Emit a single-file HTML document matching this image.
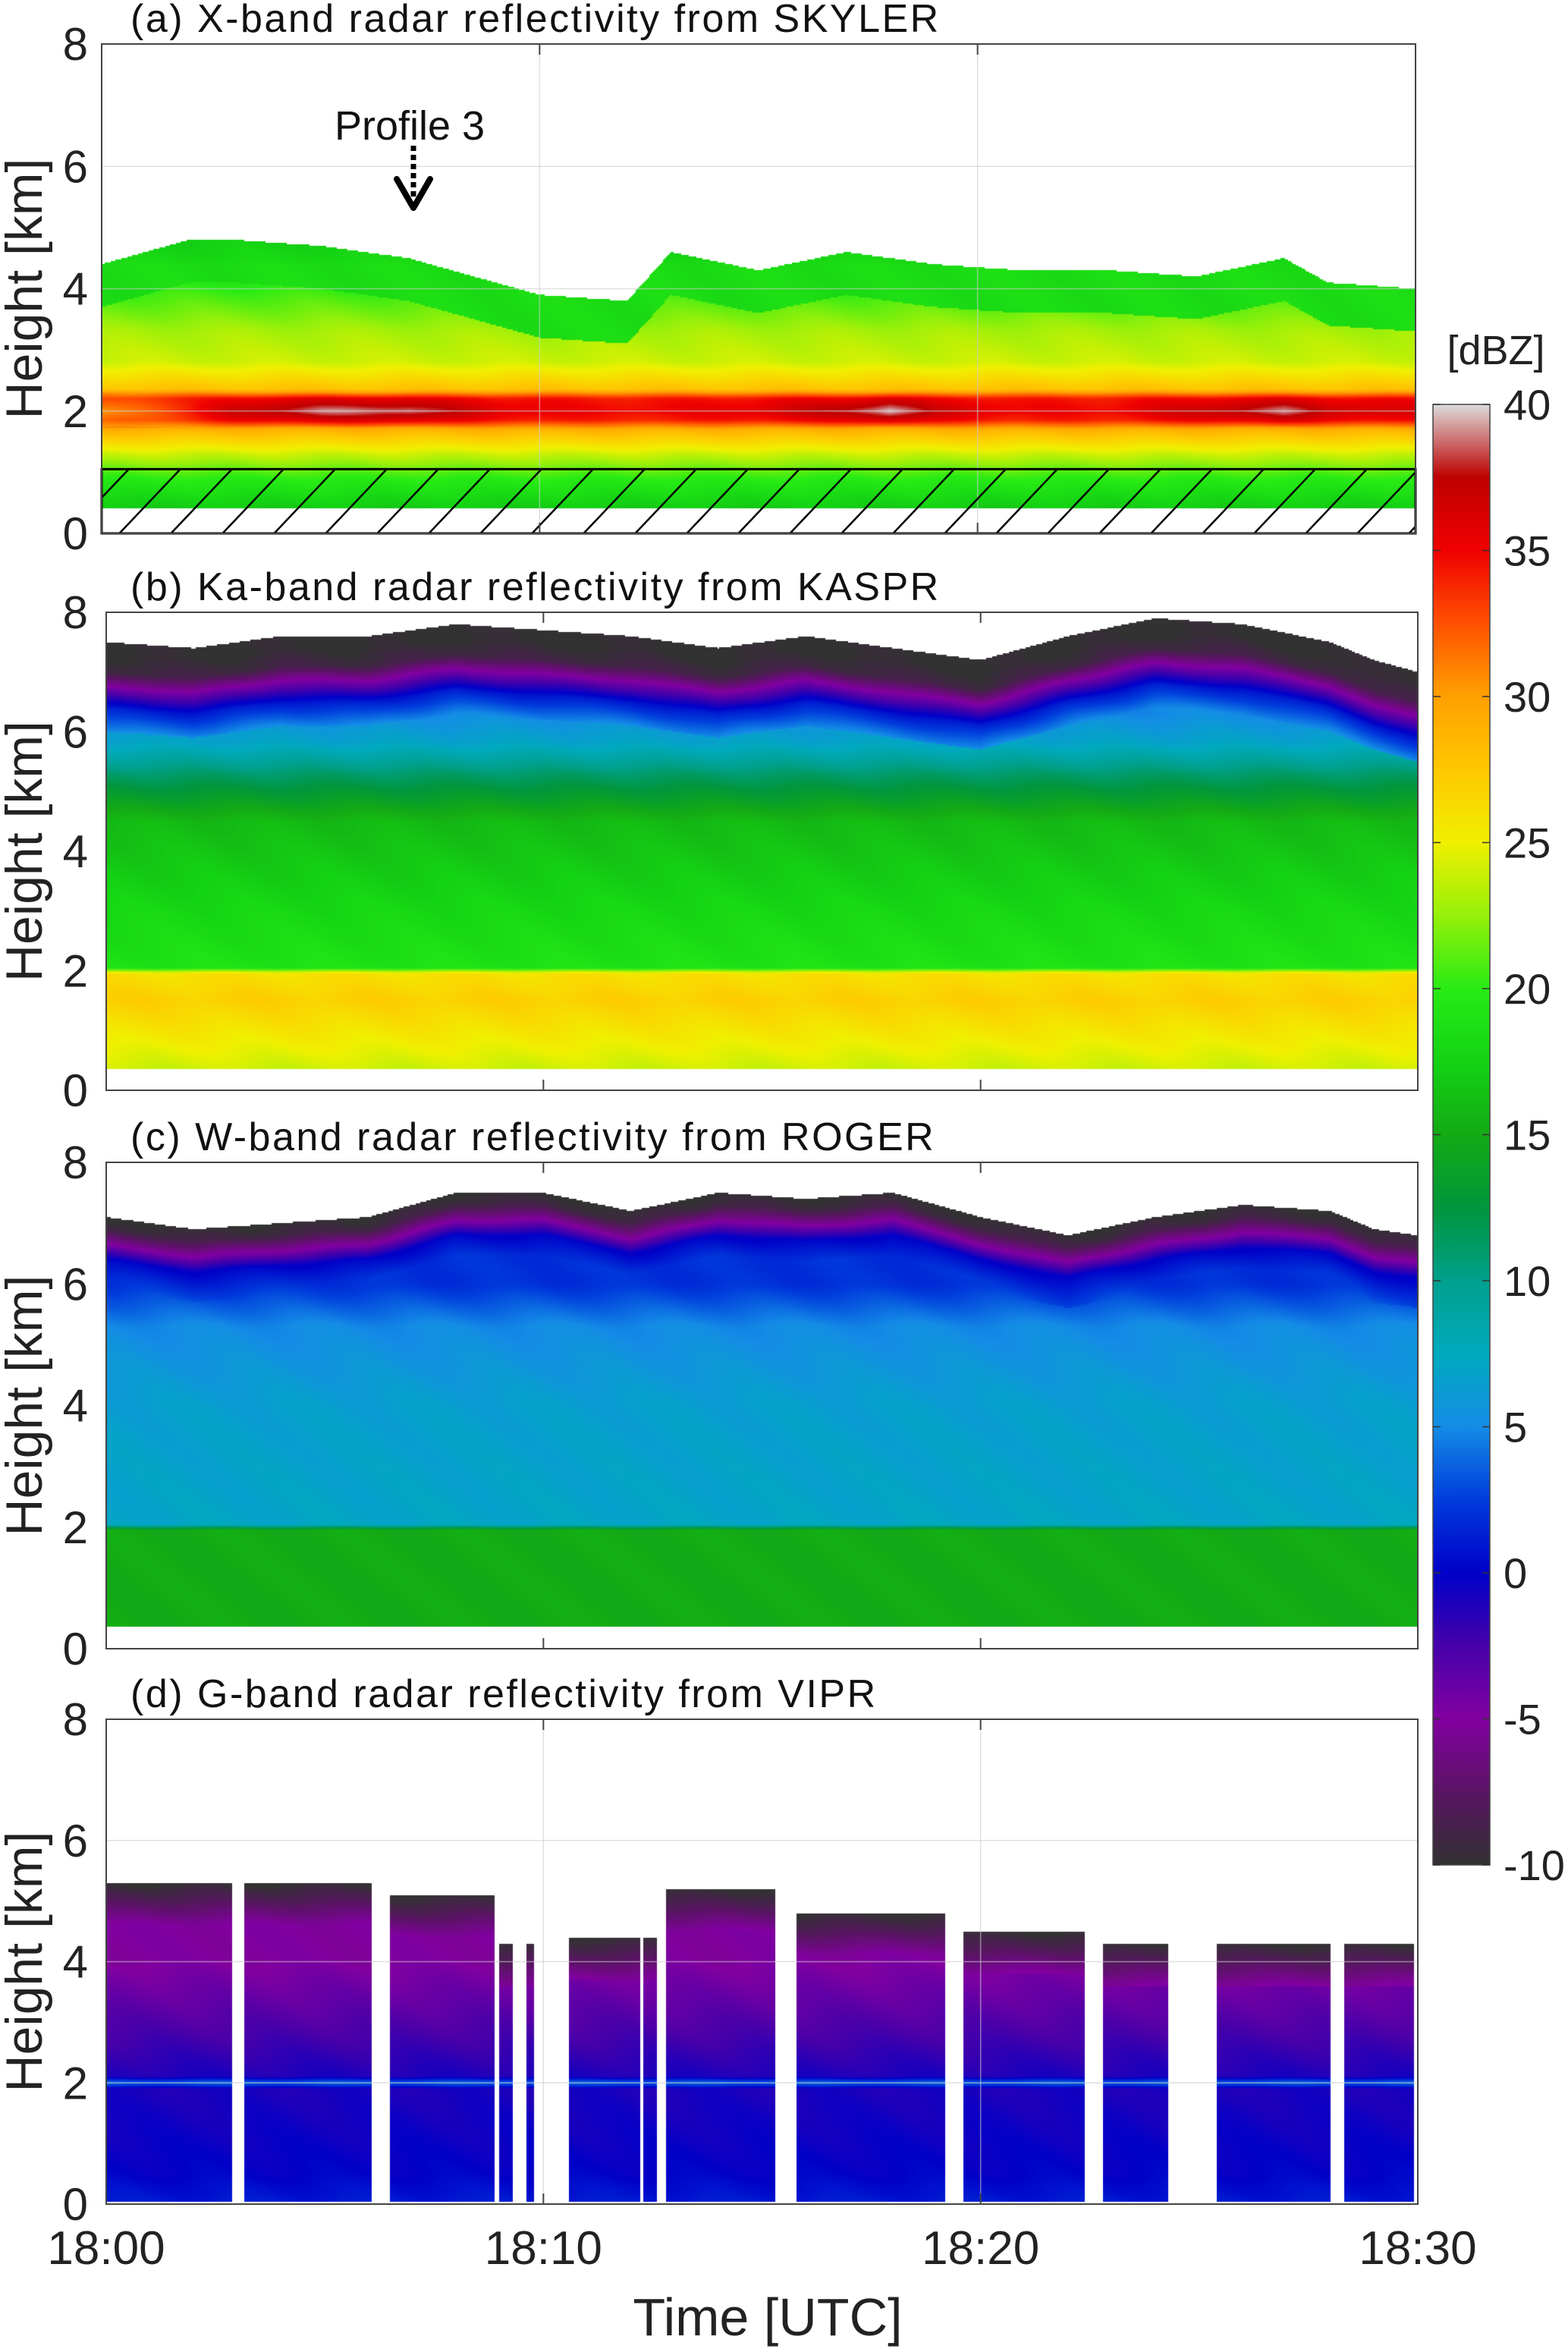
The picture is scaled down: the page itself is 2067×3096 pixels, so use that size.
<!DOCTYPE html>
<html><head><meta charset="utf-8">
<style>
html,body{margin:0;padding:0;background:#fff;}
#root{position:relative;width:2067px;height:3096px;overflow:hidden;font-family:"Liberation Sans",sans-serif;}
canvas{position:absolute;}
</style></head>
<body>
<div id="root">
<svg id="svg" width="2067" height="3096" style="position:absolute;left:0;top:0"></svg>
</div>
<script>
// ---------- data ----------
const timeTicks = [0,10,20,30];
const timeTickLabels = ["18:00","18:10","18:20","18:30"];
const heightTicks = [0,2,4,6,8];
const cbTicks = [-10,-5,0,5,10,15,20,25,30,35,40];

// panel a (X-band)
const aTopTimes = [0,1,2,3,5,7,9,10,12,13,15,17,19,21,23,25,27,28,30];
const aTops     = [4.4,4.6,4.8,4.8,4.7,4.5,4.1,3.9,3.8,4.6,4.3,4.6,4.4,4.3,4.3,4.2,4.5,4.1,4.0];
const aBBTimes  = [0,2,3,5,7,9,11,13,15,17,18,19,21,23,25,27,28,30];
const aBBPeak   = [30,34,37,39,39,36,35,35,36,38,40,37,35,35,37,39,37,36];
const aProfH    = [0.4,0.9,1.3,1.7,1.85,2.0,2.2,2.35,2.8,3.3,3.8,4.5,5.0];
const aProfZ    = [17,20,24,29,35,37,35,28,24,23,21,18,17];

// panel b (Ka-band)
const bTopTimes = [0,2,4,6,8,10,12,14,16,18,20,22,24,26,28,29,30];
const bTops     = [7.3,7.2,7.4,7.4,7.6,7.5,7.4,7.2,7.4,7.2,7.0,7.4,7.7,7.6,7.3,7.0,6.8];
const bProfH    = [0.35,1.5,1.95,2.05,3.0,4.5,5.3,5.8,6.3];
const bProfZ    = [24,27,26,19,18,16,11,7,5];

// panel c (W-band)
const cTopTimes = [0,2,4,6,8,10,12,14,16,18,20,22,24,26,28,29,30];
const cTops     = [6.9,6.7,6.8,6.9,7.3,7.3,7.0,7.3,7.2,7.3,6.9,6.6,6.9,7.1,7.0,6.7,6.6];
const cProfH    = [0.35,1.95,2.05,4.0,5.3,6.0];
const cProfZ    = [15,15,7,6.5,5,2];

// panel d (G-band)
const dSegStart = [0,3.16,6.5,9.0,9.6,10.6,12.3,12.8,15.8,19.6,22.8,25.4,28.3];
const dSegEnd   = [2.88,6.09,8.9,9.3,9.8,12.2,12.6,15.3,19.2,22.4,24.3,28.0,29.9];
const dSegTop   = [5.3,5.3,5.1,4.3,4.3,4.4,4.4,5.2,4.8,4.5,4.3,4.3,4.3];
const dProfH    = [0.05,0.5,1.9,2.0,2.1,3.0,4.0];
const dProfZ    = [1,0,-1,4,-1,-3,-5];

// ---------- geometry ----------
const panels = [
 {id:'a',left:134,right:1866,top:58,bottom:703,title:"(a) X-band radar reflectivity from SKYLER",grid:true},
 {id:'b',left:140,right:1869,top:807,bottom:1437,title:"(b) Ka-band radar reflectivity from KASPR",grid:false},
 {id:'c',left:140,right:1869,top:1532,bottom:2173,title:"(c) W-band radar reflectivity from ROGER",grid:false},
 {id:'d',left:140,right:1869,top:2266,bottom:2905,title:"(d) G-band radar reflectivity from VIPR",grid:true}
];
const cmapV=[-10,-7.5,-5,-2.5,0,2.5,5,7.5,10,12.5,15,17.5,20,22.5,25,27.5,30,32.5,35,37.5,40];
const cmapC=[[50,50,50],[90,20,100],[130,0,160],[70,0,170],[0,0,200],[0,60,220],[20,140,230],[0,170,190],[0,160,140],[0,150,60],[20,170,20],[20,210,20],[40,235,20],[150,240,10],[240,240,0],[255,200,0],[255,160,0],[255,80,0],[240,0,0],[190,0,0],[220,220,220]];
function cmap(v){
 if(v<=cmapV[0])return cmapC[0];
 for(let i=1;i<cmapV.length;i++){ if(v<=cmapV[i]){const f=(v-cmapV[i-1])/(cmapV[i]-cmapV[i-1]);const a=cmapC[i-1],b=cmapC[i];return [a[0]+(b[0]-a[0])*f,a[1]+(b[1]-a[1])*f,a[2]+(b[2]-a[2])*f];}}
 return cmapC[cmapC.length-1];
}
function lerp(xs,ys,x){
 if(x<=xs[0])return ys[0];
 for(let i=1;i<xs.length;i++) if(x<=xs[i]) return ys[i-1]+(ys[i]-ys[i-1])*(x-xs[i-1])/(xs[i]-xs[i-1]);
 return ys[ys.length-1];
}
const NS='http://www.w3.org/2000/svg';
const svg=document.getElementById('svg');
function el(tag,attrs,parent){const e=document.createElementNS(NS,tag);for(const k in attrs)e.setAttribute(k,attrs[k]);(parent||svg).appendChild(e);return e;}
function xScale(p,t){return p.left+(p.right-p.left)*t/30;}
function yScale(p,h){return p.bottom-(p.bottom-p.top)*h/8;}

function valueAt(id,t,h){
 const tex=Math.sin(t*2.3+h*4.1)*0.3;
 if(id==='a'){
  const top=lerp(aTopTimes,aTops,t);
  if(h<0.4||h>top)return null;
  let z=lerp(aProfH,aProfZ,h);
  if(h>1.75&&h<2.3){const pk=lerp(aBBTimes,aBBPeak,t);const w=1-Math.abs(h-2.0)/0.3;z=z+(pk-37)*w;}
  if(top-h<0.7) z=Math.min(z,18.5);
  return z+tex;
 }
 if(id==='b'){
  const top=lerp(bTopTimes,bTops,t);
  if(h<0.35||h>top+0.2)return null;
  let z=lerp(bProfH,bProfZ,h);
  const d=top-h;
  if(d<1.3){z=Math.min(z,lerp([-0.2,0,0.3,0.6,0.9,1.3],[-10,-10,-9,-4,1,5],d));}
  return z+tex;
 }
 if(id==='c'){
  const top=lerp(cTopTimes,cTops,t);
  if(h<0.35||h>top+0.2)return null;
  let z=lerp(cProfH,cProfZ,h);
  const d=top-h;
  if(d<1.0){z=Math.min(z,lerp([-0.2,0,0.25,0.5,1.0],[-10,-9,-5,0,3],d));}
  return z+tex;
 }
 if(id==='d'){
  let s=-1;
  for(let i=0;i<dSegStart.length;i++) if(t>=dSegStart[i]&&t<=dSegEnd[i]){s=i;break;}
  if(s<0)return null;
  const top=dSegTop[s];
  if(h<0.05||h>top)return null;
  let z=lerp(dProfH,dProfZ,h);
  const d=top-h;
  if(d<0.7) z=Math.min(z,lerp([0,0.3,0.7],[-10,-8,-5],d));
  return z+tex;
 }
}

panels.forEach(p=>{
 const W=p.right-p.left, H=p.bottom-p.top;
 const cv=document.createElement('canvas');
 cv.width=W;cv.height=H;cv.style.left=p.left+'px';cv.style.top=p.top+'px';
 
 
 document.getElementById('root').insertBefore(cv,svg);
 const ctx=cv.getContext('2d');const img=ctx.createImageData(W,H);
 for(let x=0;x<W;x+=2){
  const t=30*(x+1)/W;
  for(let y=0;y<H;y+=2){
   const h=8*(H-y-1)/H;
   const v=valueAt(p.id,t,h);
   let c=v===null?[255,255,255]:cmap(v);
   for(let dx=0;dx<2;dx++)for(let dy=0;dy<2;dy++){
    if(x+dx>=W||y+dy>=H)continue;
    const k=((y+dy)*W+(x+dx))*4;img.data[k]=c[0];img.data[k+1]=c[1];img.data[k+2]=c[2];img.data[k+3]=255;}
  }
 }
 ctx.putImageData(img,0,0);
});

// axes
panels.forEach(p=>{
 const g=el('g',{});
 
 
 if(p.grid){
  [2,4,6].forEach(h=>{const l=el('line',{x1:p.left,x2:p.right,y1:yScale(p,h),y2:yScale(p,h),stroke:'#ccc','stroke-width':1.5,opacity:0.6},g);});
  [10,20].forEach(t=>{const l=el('line',{x1:xScale(p,t),x2:xScale(p,t),y1:p.top,y2:p.bottom,stroke:'#ccc','stroke-width':1.5,opacity:0.6},g);});
 }
 if(p.id==='a'){
  const y0=yScale(p,1.05), y1=yScale(p,0);
  const hg=el('g',{},g);
  
  
  el('rect',{x:p.left,y:y0,width:p.right-p.left,height:y1-y0,fill:'none',stroke:'#000','stroke-width':3},hg);
  const hh=y1-y0;
  for(let x=p.left-hh+40;x<p.right;x+=68){
   let xa=x,ya=y1,xb=x+hh*0.95,yb=y0;
   if(xa<p.left){ya=y1-(p.left-xa)/0.95;xa=p.left;}
   if(xb>p.right){yb=y0+(xb-p.right)/0.95;xb=p.right;}
   el('line',{x1:xa,y1:ya,x2:xb,y2:yb,stroke:'#000','stroke-width':2.5},hg);
  }
  const pt=el('text',{x:540,y:184,'font-size':54,'text-anchor':'middle',fill:'#111','font-family':'Liberation Sans, sans-serif'},g);
  pt.textContent='Profile 3';
  
  
  const ar=el('g',{},g);
  
  
  el('line',{x1:545,y1:192,x2:545,y2:262,stroke:'#000','stroke-width':7,'stroke-dasharray':'7,5'},ar);
  el('polyline',{points:'523,236 545,274 567,236',fill:'none',stroke:'#000','stroke-width':8,'stroke-linecap':'round','stroke-linejoin':'round'},ar);
 }
 el('rect',{x:p.left,y:p.top,width:p.right-p.left,height:p.bottom-p.top,fill:'none',stroke:'#444','stroke-width':2},g);
 [10,20].forEach(t=>{el('line',{x1:xScale(p,t),x2:xScale(p,t),y1:p.bottom,y2:p.bottom-14,stroke:'#444','stroke-width':2},g);el('line',{x1:xScale(p,t),x2:xScale(p,t),y1:p.top,y2:p.top+14,stroke:'#444','stroke-width':2},g);});
 heightTicks.forEach(h=>{
  const tx=el('text',{x:116,y:yScale(p,h)+21,'font-size':60,'text-anchor':'end',fill:'#222','font-family':'Liberation Sans, sans-serif'},g);
  tx.textContent=String(h);
  
  
 });
 const yl=el('text',{x:0,y:0,'font-size':68,'text-anchor':'middle',fill:'#222','font-family':'Liberation Sans, sans-serif',transform:`translate(55,${(p.top+p.bottom)/2}) rotate(-90)`},g);
 yl.textContent='Height [km]';
 
 
 const tt=el('text',{x:172,y:p.top-16,'font-size':52,'letter-spacing':'2.5',fill:'#111','font-family':'Liberation Sans, sans-serif'},g);
 tt.textContent=p.title;
 
 
});
const pd=panels[3];
timeTicks.forEach((t,i)=>{
 const tx=el('text',{x:xScale(pd,t),y:2984,'font-size':62,'text-anchor':'middle',fill:'#222','font-family':'Liberation Sans, sans-serif'});
 tx.textContent=timeTickLabels[i];
 
 
});
const xt=el('text',{x:1012,y:3078,'font-size':70,'text-anchor':'middle',fill:'#222','font-family':'Liberation Sans, sans-serif'});
xt.textContent='Time [UTC]';



// colorbar
const cb={left:1889,right:1964,top:533,bottom:2458};
const cg=el('g',{});


const defs=el('defs',{});
const lg=el('linearGradient',{id:'cbg',x1:0,y1:1,x2:0,y2:0},defs);
cmapV.forEach((v,i)=>{const c=cmapC[i];el('stop',{offset:(v+10)/50,'stop-color':`rgb(${c[0]},${c[1]},${c[2]})`},lg);});
el('rect',{x:cb.left,y:cb.top,width:cb.right-cb.left,height:cb.bottom-cb.top,fill:'url(#cbg)',stroke:'#444','stroke-width':1.5},cg);
function cbY(v){return cb.bottom-(cb.bottom-cb.top)*(v+10)/50;}
cbTicks.forEach(v=>{
 el('line',{x1:cb.left,x2:cb.left+10,y1:cbY(v),y2:cbY(v),stroke:'#333','stroke-width':1.5},cg);
 el('line',{x1:cb.right-10,x2:cb.right,y1:cbY(v),y2:cbY(v),stroke:'#333','stroke-width':1.5},cg);
 const tx=el('text',{x:1982,y:cbY(v)+20,'font-size':56,fill:'#222','font-family':'Liberation Sans, sans-serif'},cg);
 tx.textContent=String(v);
 
 
});
const ut=el('text',{x:1972,y:480,'font-size':54,'text-anchor':'middle',fill:'#222','font-family':'Liberation Sans, sans-serif'},cg);
ut.textContent='[dBZ]';


</script>
</body></html>
